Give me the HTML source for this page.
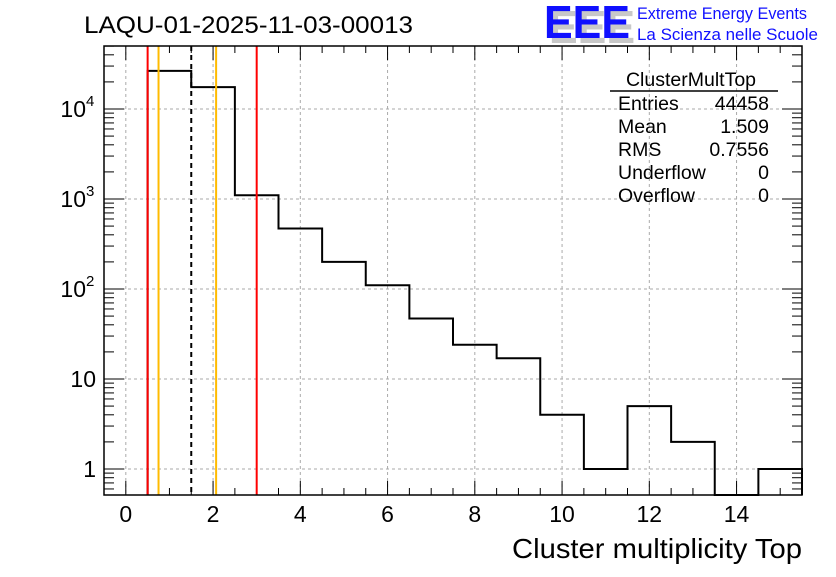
<!DOCTYPE html>
<html><head><meta charset="utf-8"><style>
body{margin:0;background:#fff;width:836px;height:572px;overflow:hidden;font-family:"Liberation Sans",sans-serif}
svg text{font-family:"Liberation Sans",sans-serif}
</style></head><body>
<svg id="c" width="836" height="572">
<text x="84" y="33" font-size="24" textLength="329" lengthAdjust="spacingAndGlyphs">LAQU-01-2025-11-03-00013</text>
<g>
<text x="549" y="43" font-size="46" font-weight="bold" fill="#c8c8c8" textLength="86" lengthAdjust="spacingAndGlyphs">EEE</text>
<text x="544" y="38" font-size="46" font-weight="bold" fill="#1010ff" textLength="86" lengthAdjust="spacingAndGlyphs">EEE</text>
<text x="637" y="19" font-size="16.5" fill="#1010ff" textLength="170" lengthAdjust="spacingAndGlyphs">Extreme Energy Events</text>
<text x="637" y="40" font-size="16.5" fill="#1010ff" textLength="181" lengthAdjust="spacingAndGlyphs">La Scienza nelle Scuole</text>
</g>
<g id="grid"></g><g id="ticks"></g><g id="marks"></g>
<rect x="104" y="46" width="698" height="449" fill="none" stroke="#000" stroke-width="1.5"/>
<g font-size="19.5">
<text x="691" y="86" text-anchor="middle">ClusterMultTop</text>
<line x1="610" y1="91" x2="778" y2="91" stroke="#000" stroke-width="1.5"/>
<text x="618" y="110">Entries</text><text x="769" y="110" text-anchor="end">44458</text>
<text x="618" y="133">Mean</text><text x="769" y="133" text-anchor="end">1.509</text>
<text x="618" y="156">RMS</text><text x="769" y="156" text-anchor="end">0.7556</text>
<text x="618" y="179">Underflow</text><text x="769" y="179" text-anchor="end">0</text>
<text x="618" y="202">Overflow</text><text x="769" y="202" text-anchor="end">0</text>
</g>
<text x="802" y="558" font-size="28" text-anchor="end" textLength="290" lengthAdjust="spacingAndGlyphs">Cluster multiplicity Top</text>
</svg>
<script>
const binCenters=[1,2,3,4,5,6,7,8,9,10,11,12,13,14,15];
const counts=[26500,17500,1100,470,200,110,47,24,17,4,1,5,2,0,1];
const xTicks=[0,2,4,6,8,10,12,14];
const yTicks=[1,10,100,1000,10000];
const yTickLabels=["1","10","10^2","10^3","10^4"];
const vLines=[{x:0.5,c:"#ff0000",d:""},{x:0.75,c:"#ffbb00",d:""},{x:1.5,c:"#000",d:"5,4"},{x:2.07,c:"#ffbb00",d:""},{x:3.0,c:"#ff0000",d:""}];
const L=104,R=802,T=46,B=495,xmin=-0.5,xmax=15.5,lymin=Math.log10(0.514),lymax=4.7;
const X=v=>L+(v-xmin)/(xmax-xmin)*(R-L);
const Y=v=>B-(Math.log10(v)-lymin)/(lymax-lymin)*(B-T);
const NS="http://www.w3.org/2000/svg";
function mk(p,t,a){const e=document.createElementNS(NS,t);for(const k in a)e.setAttribute(k,a[k]);document.getElementById(p).appendChild(e);return e;}
xTicks.forEach(v=>{const x=X(v);
 let g=mk("grid","line",{x1:x,x2:x,y1:T,y2:B,stroke:"#aaa","stroke-dasharray":"3,3"});
 
 mk("ticks","line",{x1:x,x2:x,y1:B,y2:B-14,stroke:"#000"});mk("ticks","line",{x1:x,x2:x,y1:T,y2:T+14,stroke:"#000"});
 let t=mk("ticks","text",{x:x,y:B+27,"font-size":23,"text-anchor":"middle"});t.textContent=v;
 
});
for(let v=-0.5;v<=15.5;v+=0.5){if(xTicks.includes(v))continue;const x=X(v);
 mk("ticks","line",{x1:x,x2:x,y1:B,y2:B-7,stroke:"#000"});mk("ticks","line",{x1:x,x2:x,y1:T,y2:T+7,stroke:"#000"});}
yTicks.forEach((v,i)=>{const y=Y(v);
 let g=mk("grid","line",{x1:L,x2:R,y1:y,y2:y,stroke:"#aaa","stroke-dasharray":"3,3"});
 
 mk("ticks","line",{x1:L,x2:L+20,y1:y,y2:y,stroke:"#000"});mk("ticks","line",{x1:R,x2:R-20,y1:y,y2:y,stroke:"#000"});
 const lab=yTickLabels[i];let t=mk("ticks","text",{x:96,y:y+8,"font-size":23,"text-anchor":"end"});
 
 if(lab.includes("^")){const[b,e]=lab.split("^");t.setAttribute("x",86);t.textContent=b;
  let s=mk("ticks","text",{x:86,y:y-3,"font-size":15});s.textContent=e;}
 else t.textContent=lab;
 for(let k=2;k<10;k++){const yy=Y(v*k);if(yy<T)break;
  mk("ticks","line",{x1:L,x2:L+10,y1:yy,y2:yy,stroke:"#000"});mk("ticks","line",{x1:R,x2:R-10,y1:yy,y2:yy,stroke:"#000"});}
});
[0.6,0.7,0.8,0.9].forEach(v=>{mk("ticks","line",{x1:L,x2:L+10,y1:Y(v),y2:Y(v),stroke:"#000"});mk("ticks","line",{x1:R,x2:R-10,y1:Y(v),y2:Y(v),stroke:"#000"});});
let d="";const yc=c=>c>0?Y(c):B;
binCenters.forEach((c,i)=>{const x0=X(c-0.5),x1=X(c+0.5),y=yc(counts[i]);
 d+=(i==0?`M${x0},${B}`:"")+`L${x0},${y}L${x1},${y}`;});
d+=`L${X(binCenters[binCenters.length-1]+0.5)},${B}`;
let h=mk("marks","path",{d:d,fill:"none",stroke:"#000","stroke-width":2});

vLines.forEach(l=>{const x=X(l.x);let e=mk("marks","line",{x1:x,x2:x,y1:T,y2:B,stroke:l.c,"stroke-width":2,"stroke-dasharray":l.d});
 });
</script>
</body></html>
